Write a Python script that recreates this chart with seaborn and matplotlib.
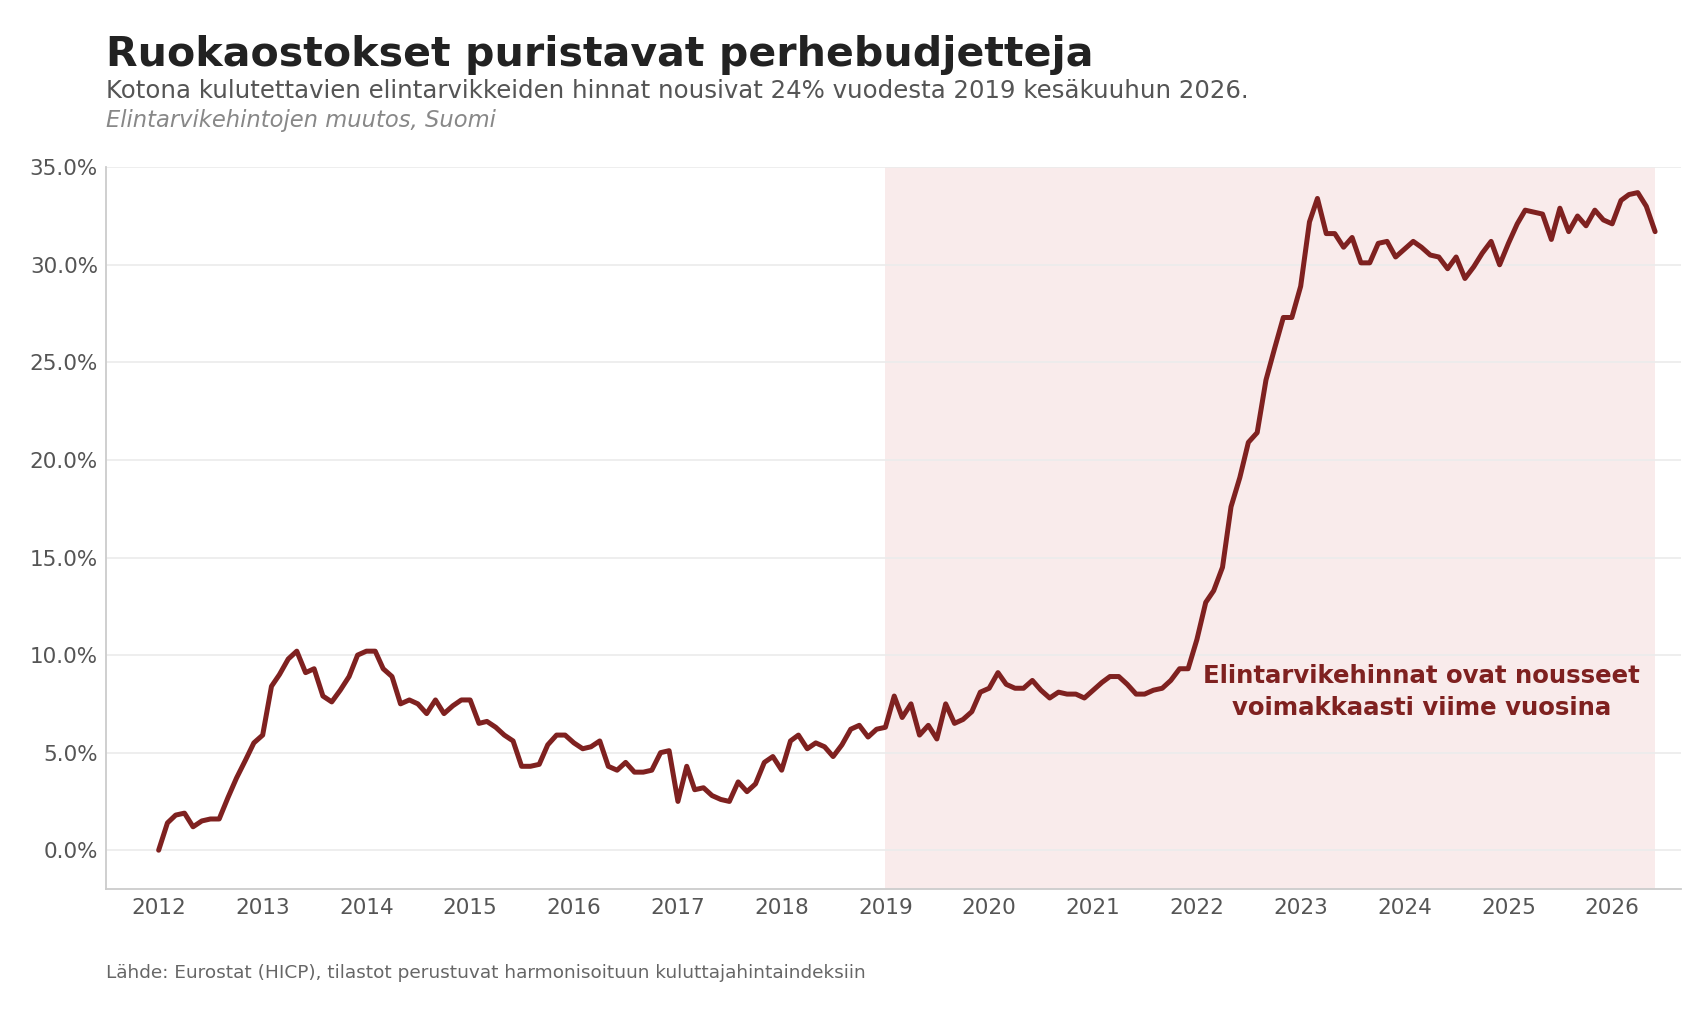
import pandas as pd
import matplotlib
matplotlib.use('Agg')
import matplotlib.pyplot as plt
import matplotlib.dates as mdates
from matplotlib.ticker import FuncFormatter
import seaborn as sns

# Monthly food price change (%) vs. Jan 2012
y2012 = [0.0, 1.4, 1.8, 1.9, 1.2, 1.5, 1.6, 1.6, 2.7, 3.7, 4.6, 5.5]
y2013 = [5.9, 8.4, 9.0, 9.8, 10.2, 9.1, 9.3, 7.9, 7.6, 8.2, 8.9, 10.0]
y2014 = [10.2, 10.2, 9.3, 8.9, 7.5, 7.7, 7.5, 7.0, 7.7, 7.0, 7.4, 7.7]
y2015 = [7.7, 6.5, 6.6, 6.3, 5.9, 5.6, 4.3, 4.3, 4.4, 5.4, 5.9, 5.9]
y2016 = [5.5, 5.2, 5.3, 5.6, 4.3, 4.1, 4.5, 4.0, 4.0, 4.1, 5.0, 5.1]
y2017 = [2.5, 4.3, 3.1, 3.2, 2.8, 2.6, 2.5, 3.5, 3.0, 3.4, 4.5, 4.8]
y2018 = [4.1, 5.6, 5.9, 5.2, 5.5, 5.3, 4.8, 5.4, 6.2, 6.4, 5.8, 6.2]
y2019 = [6.3, 7.9, 6.8, 7.5, 5.9, 6.4, 5.7, 7.5, 6.5, 6.7, 7.1, 8.1]
y2020 = [8.3, 9.1, 8.5, 8.3, 8.3, 8.7, 8.2, 7.8, 8.1, 8.0, 8.0, 7.8]
y2021 = [8.2, 8.6, 8.9, 8.9, 8.5, 8.0, 8.0, 8.2, 8.3, 8.7, 9.3, 9.3]
y2022 = [10.8, 12.7, 13.3, 14.5, 17.6, 19.1, 20.9, 21.4, 24.1, 25.7, 27.3, 27.3]
y2023 = [28.9, 32.2, 33.4, 31.6, 31.6, 30.9, 31.4, 30.1, 30.1, 31.1, 31.2, 30.4]
y2024 = [30.8, 31.2, 30.9, 30.5, 30.4, 29.8, 30.4, 29.3, 29.9, 30.6, 31.2, 30.0]
y2025 = [31.1, 32.1, 32.8, 32.7, 32.6, 31.3, 32.9, 31.7, 32.5, 32.0, 32.8, 32.3]
y2026 = [32.1, 33.3, 33.6, 33.7, 33.0, 31.7]

values = (y2012 + y2013 + y2014 + y2015 + y2016 + y2017 + y2018 + y2019
          + y2020 + y2021 + y2022 + y2023 + y2024 + y2025 + y2026)
dates = pd.date_range('2012-01-01', periods=len(values), freq='MS')
df = pd.DataFrame({'date': dates, 'change': values})

line_color = '#7f2120'

sns.set_theme(style='whitegrid')
plt.rcParams['font.family'] = ['DejaVu Sans']

fig = plt.figure(figsize=(16.88, 10.26), dpi=100)
ax = fig.add_axes([0.063, 0.1333, 0.933, 0.7037])

# highlight period from 2019 onward
ax.axvspan(pd.Timestamp('2019-01-01'), df['date'].iloc[-1], color='#f9ebeb', zorder=0, lw=0)

sns.lineplot(data=df, x='date', y='change', color=line_color, linewidth=3.6, ax=ax, zorder=3)

ax.set_xlim(pd.Timestamp('2011-07-01'), pd.Timestamp('2026-09-01'))
ax.set_ylim(-2, 35)
ax.set_yticks([0, 5, 10, 15, 20, 25, 30, 35])
ax.yaxis.set_major_formatter(FuncFormatter(lambda v, p: f'{v:.1f}%'))
ax.xaxis.set_major_locator(mdates.YearLocator())
ax.xaxis.set_major_formatter(mdates.DateFormatter('%Y'))

ax.set_xlabel('')
ax.set_ylabel('')
ax.set_axisbelow(True)
ax.grid(axis='x', visible=False)
ax.grid(axis='y', color='#ebebeb', linewidth=1.2)
ax.set_facecolor('white')
for side in ['top', 'right']:
    ax.spines[side].set_visible(False)
for side in ['left', 'bottom']:
    ax.spines[side].set_color('#cccccc')
    ax.spines[side].set_linewidth(1.3)
ax.tick_params(axis='both', labelsize=15.5, labelcolor='#555555', length=0, pad=6)

ax.text(pd.Timestamp('2024-03-01'), 8.1,
        'Elintarvikehinnat ovat nousseet\nvoimakkaasti viime vuosina',
        ha='center', va='center', fontsize=17.6, fontweight='bold',
        color=line_color, linespacing=1.4, zorder=4)

fig.text(0.063, 0.9357, 'Ruokaostokset puristavat perhebudjetteja',
         fontsize=29.6, fontweight='bold', color='#222222', va='baseline')
fig.text(0.063, 0.9045,
         'Kotona kulutettavien elintarvikkeiden hinnat nousivat 24% vuodesta 2019 kesäkuuhun 2026.',
         fontsize=17.6, color='#555555', va='baseline')
fig.text(0.063, 0.876, 'Elintarvikehintojen muutos, Suomi',
         fontsize=16.3, color='#888888', style='italic', va='baseline')
fig.text(0.063, 0.047,
         'Lähde: Eurostat (HICP), tilastot perustuvat harmonisoituun kuluttajahintaindeksiin',
         fontsize=13.3, color='#666666', va='baseline')

fig.savefig('out.png', dpi=100, facecolor='white')
